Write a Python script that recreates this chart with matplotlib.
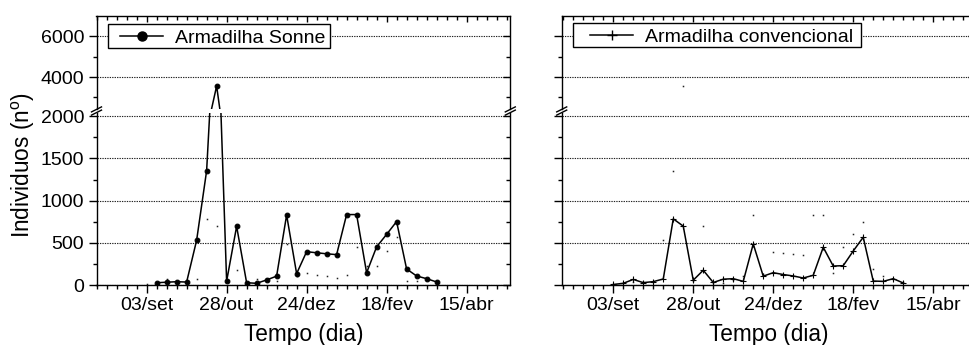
import matplotlib
matplotlib.use('Agg')
import matplotlib.pyplot as plt
from matplotlib.ticker import MultipleLocator, FixedLocator
from matplotlib.lines import Line2D
from matplotlib.patches import Rectangle

plt.rcParams['font.family'] = ['Liberation Sans', 'DejaVu Sans']

# ---------------- data ----------------
tick_days = [0, 56, 112, 168, 224]
tick_labels = ['03/set', '28/out', '24/dez', '18/fev', '15/abr']

sonne_days = [7, 14, 21, 28, 35, 42, 49, 56, 63, 70, 77, 84, 91, 98, 105,
              112, 119, 126, 133, 140, 147, 154, 161, 168, 175, 182, 189, 196, 203]
sonne_values = [27, 33, 39, 35, 530, 1355, 3560, 45, 695, 27, 20, 60, 105, 830, 135,
                395, 382, 370, 360, 835, 835, 145, 452, 600, 752, 190, 107, 75, 36]

conv_days = [0, 7, 14, 21, 28, 35, 42, 49, 56, 63, 70, 77, 84, 91, 98,
             105, 112, 119, 126, 133, 140, 147, 154, 161, 168, 175, 182, 189, 196, 203]
conv_values = [6, 20, 66, 28, 40, 71, 784, 698, 57, 175, 30, 69, 75, 43, 487,
               105, 146, 124, 107, 83, 115, 447, 225, 229, 403, 566, 47, 43, 75, 24]

# ---------------- layout (pixels) ----------------
W, H = 969, 345
fig = plt.figure(figsize=(W / 100, H / 100), dpi=100)


def fx(x):
    return x / W


def fy(y):
    return 1 - y / H


def rect(x0, y0, x1, y1):
    return [x0 / W, 1 - y1 / H, (x1 - x0) / W, (y1 - y0) / H]


AXW = 413.8
Y_TOP, Y_UB, Y_LT, Y_BOT = 15.7, 108.5, 113.5, 285.0
LOW_LIM = (0, 2033)
UP_LIM = (2463, 6992)
FS = 14.0

panels = [
    dict(x0=96.5, xlim=(-35.1, 254.6), days=sonne_days, vals=sonne_values,
         gdays=conv_days, gvals=conv_values, marker='o', ms=3.4, mew=0.8,
         lms=6.5, label='Armadilha Sonne', ylabels=True,
         box=(108.3, 24.0, 330.0, 48.0), line=(120.0, 163.3), text_x=175.0),
    dict(x0=561.7, xlim=(-36.1, 253.6), days=conv_days, vals=conv_values,
         gdays=sonne_days, gvals=sonne_values, marker='+', ms=3.8, mew=0.8,
         lms=7, label='Armadilha convencional', ylabels=False,
         box=(573.3, 22.7, 860.7, 46.7), line=(590.0, 633.3), text_x=645.0),
]

grid_kw = dict(color='#222222', lw=0.8, ls=(0, (1.2, 1.0)))

for p in panels:
    x0 = p['x0']
    axl = fig.add_axes(rect(x0, Y_LT, x0 + AXW, Y_BOT))
    axu = fig.add_axes(rect(x0, Y_TOP, x0 + AXW, Y_UB))
    for ax, lim in ((axl, LOW_LIM), (axu, UP_LIM)):
        ax.set_xlim(p['xlim'])
        ax.set_ylim(lim)
        ax.plot(p['gdays'], p['gvals'], ls='none', marker='s', ms=1.1,
                mew=0, color='#222222', zorder=2)
        ax.plot(p['days'], p['vals'], color='k', lw=1.1, marker=p['marker'],
                ms=p['ms'], mew=p['mew'], mfc='k', mec='k', zorder=3)
        ax.xaxis.set_major_locator(FixedLocator(tick_days))
        ax.xaxis.set_minor_locator(MultipleLocator(7))
        ax.grid(axis='y', which='major', **grid_kw)
        for s in ax.spines.values():
            s.set_linewidth(1.0)
    axl.set_yticks([0, 500, 1000, 1500, 2000])
    axl.yaxis.set_minor_locator(MultipleLocator(250))
    axu.set_yticks([4000, 6000])
    axu.yaxis.set_minor_locator(MultipleLocator(1000))

    axl.spines['top'].set_visible(False)
    axu.spines['bottom'].set_visible(False)

    axl.set_xticklabels(tick_labels)
    axl.tick_params(axis='x', which='both', direction='out', top=False,
                    bottom=True, labelsize=FS, pad=3)
    axl.tick_params(axis='x', which='major', length=6, width=1)
    axl.tick_params(axis='x', which='minor', length=3, width=1)
    axu.tick_params(axis='x', which='both', direction='in', top=True,
                    bottom=False, labelbottom=False, labeltop=False)
    axu.tick_params(axis='x', which='major', length=4, width=1)
    axu.tick_params(axis='x', which='minor', length=3, width=1)

    for ax in (axl, axu):
        ax.tick_params(axis='y', which='both', direction='out', left=True,
                       right=False, labelsize=FS, pad=3,
                       labelleft=p['ylabels'])
        ax.tick_params(axis='y', which='major', length=6, width=1)
        ax.tick_params(axis='y', which='minor', length=3, width=1)
        tw = ax.twinx()
        tw.set_ylim(ax.get_ylim())
        tw.yaxis.set_major_locator(FixedLocator(list(ax.get_yticks())))
        tw.yaxis.set_minor_locator(ax.yaxis.get_minor_locator())
        tw.tick_params(axis='y', which='both', direction='in', labelright=False)
        tw.tick_params(axis='y', which='major', length=5, width=1)
        tw.tick_params(axis='y', which='minor', length=3, width=1)
        for s in tw.spines.values():
            s.set_visible(False)

    # legend (drawn by hand to match the boxed Origin-style legend)
    bx0, by0, bx1, by1 = p['box']
    fig.add_artist(Rectangle((fx(bx0), fy(by1)), (bx1 - bx0) / W, (by1 - by0) / H,
                             transform=fig.transFigure, facecolor='white',
                             edgecolor='k', lw=1.0, zorder=10))
    ym = (by0 + by1) / 2
    lx0, lx1 = p['line']
    fig.add_artist(Line2D([fx(lx0), fx(lx1)], [fy(ym), fy(ym)], color='k', lw=1.1,
                          transform=fig.transFigure, zorder=11))
    fig.add_artist(Line2D([fx((lx0 + lx1) / 2)], [fy(ym)], color='k', ls='none',
                          marker=p['marker'], ms=p['lms'], mew=1.0, mfc='k',
                          mec='k', transform=fig.transFigure, zorder=11))
    t = fig.text(fx(p['text_x']), fy(ym + 0.5), p['label'], ha='left',
                 va='center_baseline', fontsize=FS, zorder=12)

    # break marks on left and right spines
    yb = (Y_UB + Y_LT) / 2
    for xs in (x0, x0 + AXW):
        for dy in (-1.6, 1.6):
            fig.add_artist(Line2D([(xs - 5) / W, (xs + 5) / W],
                                  [1 - (yb + dy + 2.5) / H, 1 - (yb + dy - 2.5) / H],
                                  color='k', lw=1.0, transform=fig.transFigure))

    # x label
    fig.text((x0 + AXW / 2) / W, 1 - 340.5 / H, 'Tempo (dia)', ha='center',
             va='baseline', fontsize=16.3)

fig.text(23.3 / W, 1 - 165 / H, 'Individuos (n$^{\\mathregular{o}}$)', rotation=90,
         ha='center', va='center', fontsize=16.3)

fig.savefig('out.png', dpi=100)
